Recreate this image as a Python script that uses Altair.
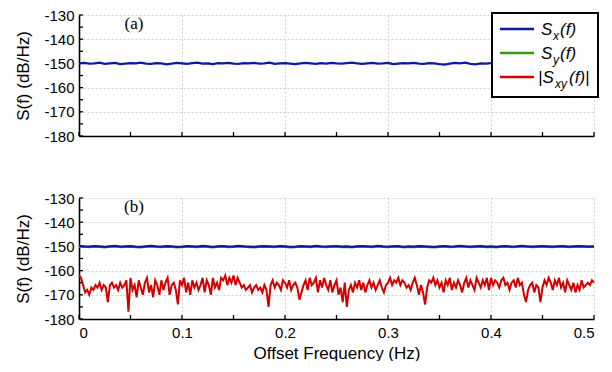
import altair as alt
import pandas as pd

# ---------------- data ----------------
X_MAJOR = [0, 0.1, 0.2, 0.3, 0.4, 0.5]
X_MINOR = [0, 0.05, 0.1, 0.15, 0.2, 0.25, 0.3, 0.35, 0.4, 0.45, 0.5]
Y_MAJOR = [-180, -170, -160, -150, -140, -130]
Y_MINOR = [-180, -175, -170, -165, -160, -155, -150, -145, -140, -135, -130]

# panel (a): S_x(f), step 0.005 Hz, 0 .. 0.4
top_sx = [-150.0, -149.8, -150.1, -150.0, -149.7, -150.2, -150.0, -149.8, -150.3, -150.1,
          -149.9, -150.0, -149.7, -150.1, -150.2, -149.9, -150.0, -150.4, -150.1, -149.8,
          -150.0, -150.2, -149.9, -149.7, -150.1, -150.0, -150.3, -149.9, -150.0, -149.8,
          -150.1, -150.2, -149.9, -150.0, -149.8, -150.1, -150.0, -149.7, -150.2, -150.0,
          -149.9, -150.1, -150.3, -150.0, -149.8, -150.0, -150.2, -149.9, -150.1, -149.8,
          -150.0, -150.1, -149.9, -149.7, -150.0, -150.2, -150.0, -149.8, -150.1, -150.0,
          -149.8, -150.3, -150.1, -149.9, -150.0, -149.8, -150.1, -150.2, -149.9, -150.0,
          -150.3, -150.5, -150.1, -149.8, -150.0, -149.7, -150.2, -150.4, -150.0, -150.1,
          -149.9]

# panel (b): S_x(f) and S_y(f), step 0.005 Hz, 0 .. 0.5
bot_sx = [-149.8, -150.0, -150.1, -149.9, -150.0, -150.2, -150.0, -149.8, -150.1, -150.0,
          -149.9, -150.1, -150.2, -150.0, -149.8, -150.0, -150.1, -149.9, -150.0, -150.2,
          -150.1, -149.9, -150.0, -150.1, -149.8, -150.0, -150.2, -150.0, -149.9, -150.1,
          -150.0, -149.8, -150.0, -150.1, -150.2, -150.0, -149.9, -150.0, -150.1, -149.9,
          -150.0, -150.2, -150.1, -149.9, -150.0, -150.1, -149.8, -150.0, -150.1, -150.0,
          -149.9, -150.1, -150.0, -150.2, -150.0, -149.9, -150.0, -150.1, -149.8, -150.0,
          -150.1, -150.0, -149.9, -150.2, -150.0, -150.1, -149.9, -150.0, -150.1, -150.2,
          -150.0, -149.9, -150.1, -150.0, -149.8, -150.0, -150.1, -150.0, -149.9, -150.1,
          -150.0, -150.2, -150.0, -149.9, -150.1, -150.0, -149.8, -150.0, -150.1, -150.0,
          -149.9, -150.0, -150.1, -150.0, -149.9, -150.1, -150.0, -149.9, -150.0, -150.1,
          -150.0]
bot_sy = [-150.2, -150.1, -150.3, -150.0, -150.2, -150.4, -150.1, -150.0, -150.3, -150.2,
          -150.1, -150.3, -150.4, -150.1, -150.0, -150.2, -150.3, -150.1, -150.2, -150.4,
          -150.3, -150.0, -150.2, -150.3, -150.1, -150.2, -150.4, -150.1, -150.0, -150.3,
          -150.2, -150.0, -150.1, -150.3, -150.4, -150.2, -150.1, -150.2, -150.3, -150.0,
          -150.2, -150.4, -150.3, -150.1, -150.2, -150.3, -150.0, -150.2, -150.3, -150.1,
          -150.0, -150.3, -150.2, -150.4, -150.1, -150.0, -150.2, -150.3, -150.0, -150.2,
          -150.3, -150.1, -150.0, -150.4, -150.2, -150.3, -150.1, -150.2, -150.3, -150.4,
          -150.2, -150.0, -150.3, -150.2, -150.0, -150.1, -150.3, -150.2, -150.0, -150.3,
          -150.2, -150.4, -150.1, -150.0, -150.3, -150.2, -150.0, -150.1, -150.3, -150.2,
          -150.0, -150.2, -150.3, -150.1, -150.0, -150.3, -150.2, -150.0, -150.1, -150.2,
          -150.1]

# panel (b): |S_xy(f)|, step 0.002 Hz, 0 .. 0.5
bot_sxy = [
    -162, -163, -166, -169, -168, -170, -167, -168, -166, -167, -165, -168, -166, -167, -173, -166, -165, -167, -166, -168, -165, -167, -166, -164, -177,
    -163, -168, -166, -171, -164, -167, -170, -165, -163, -169, -166, -171, -164, -166, -170, -164, -168, -165, -163, -170, -166, -165, -168, -174, -164,
    -166, -163, -169, -165, -170, -164, -167, -165, -168, -166, -163, -169, -164, -166, -170, -163, -167, -165, -168, -163, -164, -162, -166, -163, -165,
    -162, -166, -163, -165, -167, -166, -168, -167, -166, -169, -167, -166, -168, -167, -169, -166, -168, -175, -166, -164, -167, -165, -166, -168, -164,
    -165, -167, -164, -168, -166, -165, -167, -172, -169, -166, -164, -168, -163, -166, -165, -163, -169, -164, -167, -163, -166, -168, -164, -169, -166,
    -164, -170, -167, -173, -165, -175, -168, -166, -169, -165, -167, -164, -168, -165, -169, -166, -164, -167, -165, -168, -166, -164, -167, -169, -166,
    -165, -163, -166, -164, -165, -163, -166, -164, -165, -167, -166, -168, -165, -163, -166, -170, -166, -169, -174, -167, -164, -165, -163, -166, -164,
    -167, -165, -169, -164, -166, -163, -168, -165, -167, -164, -166, -169, -165, -163, -167, -164, -166, -168, -163, -165, -167, -164, -166, -163, -168,
    -163, -166, -164, -165, -167, -164, -163, -166, -165, -168, -165, -164, -167, -163, -166, -165, -170, -173, -168, -166, -165, -169, -166, -167, -173,
    -167, -164, -166, -163, -165, -168, -164, -166, -163, -167, -165, -169, -164, -166, -168, -165, -169, -166, -168, -164, -167, -166, -165, -166, -164,
    -165]

top_f = [round(i * 0.005, 3) for i in range(len(top_sx))]
bot_f = [round(i * 0.005, 3) for i in range(len(bot_sx))]
red_f = [round(i * 0.002, 3) for i in range(len(bot_sxy))]

BLUE = "#0d1aa0"
GREEN = "#3a9a1c"
RED = "#d40000"
FONT = "Arial"

W, H = 515, 121

xs = alt.Scale(domain=[0, 0.5], nice=False, zero=False)
ys = alt.Scale(domain=[-180, -130], nice=False, zero=False)


def xenc(field, bottom):
    ax = alt.Axis(values=X_MAJOR, labels=bottom, labelPadding=6, format="~g",
                  title="Offset Frequency (Hz)" if bottom else "", titlePadding=5,
                  grid=True)
    return alt.X(field, type="quantitative", scale=xs, axis=ax)


def yenc(field):
    ax = alt.Axis(values=Y_MAJOR, labelPadding=5, labelExpr="'' + datum.value",
                  title="S(f) (dB/Hz)", titlePadding=11, grid=True)
    return alt.Y(field, type="quantitative", scale=ys, axis=ax)


one = pd.DataFrame({"d": [0]})


def ticks(bottom):
    tx = alt.Chart(pd.DataFrame({"t": X_MINOR})).mark_rule(color="black", strokeWidth=1.3).encode(
        x=xenc("t", bottom), y=alt.value(H), y2=alt.value(H - 4))
    ty = alt.Chart(pd.DataFrame({"t": Y_MINOR})).mark_rule(color="black", strokeWidth=1.3).encode(
        y=yenc("t"), x=alt.value(0), x2=alt.value(4))
    return [tx, ty]


def line(f, v, color, width, bottom):
    df = pd.DataFrame({"f": f, "v": v})
    return alt.Chart(df).mark_line(color=color, strokeWidth=width).encode(
        x=xenc("f", bottom), y=yenc("v"))


def label(txt):
    return alt.Chart(one).mark_text(font="Times New Roman", fontSize=17, color="black",
                                    baseline="middle", align="center").encode(
        x=alt.value(55), y=alt.value(9), text=alt.value(txt))


def txt(s, x, y, size=17):
    return alt.Chart(one).mark_text(font=FONT, fontSize=size, fontStyle="italic",
                                    color="black", align="left", baseline="alphabetic").encode(
        x=alt.value(x), y=alt.value(y), text=alt.value(s))


legend = [
    alt.Chart(one).mark_rect(fill="white", stroke="black", strokeWidth=2).encode(
        x=alt.value(413), x2=alt.value(519), y=alt.value(-2), y2=alt.value(82)),
    alt.Chart(one).mark_rule(color=BLUE, strokeWidth=2.5).encode(
        x=alt.value(421), x2=alt.value(455), y=alt.value(14)),
    alt.Chart(one).mark_rule(color=GREEN, strokeWidth=2.5).encode(
        x=alt.value(421), x2=alt.value(455), y=alt.value(38)),
    alt.Chart(one).mark_rule(color=RED, strokeWidth=2.5).encode(
        x=alt.value(421), x2=alt.value(455), y=alt.value(62)),
    txt("S", 462, 20), txt("x", 474, 25, 12), txt("(f)", 481, 20),
    txt("S", 462, 44), txt("y", 474, 49, 12), txt("(f)", 481, 44),
    txt("|S", 459, 68), txt("xy", 476, 73, 12), txt("(f)|", 490, 68),
]

top = alt.layer(
    *ticks(False),
    line(top_f, top_sx, BLUE, 2.2, False),
    label("(a)"),
    *legend,
).properties(width=W, height=H)

bottom = alt.layer(
    *ticks(True),
    line(bot_f, bot_sy, GREEN, 2.2, True),
    line(bot_f, bot_sx, BLUE, 2.2, True),
    line(red_f, bot_sxy, RED, 2, True),
    label("(b)"),
).properties(width=W, height=H)

chart = alt.vconcat(top, bottom, spacing=47).properties(
    padding={"left": 6, "top": 0, "right": 0, "bottom": 0}
).configure_axis(
    labelFont=FONT, labelFontSize=15, labelColor="black",
    titleFont=FONT, titleFontSize=17, titleFontWeight="normal", titleColor="black",
    domainColor="black", domainWidth=1.6, ticks=False,
    gridColor="#c4c4c4", gridDash=[2, 2], gridWidth=0.8,
).configure_view(strokeWidth=0)

chart.save("out.html", embed_options={"renderer": "svg", "actions": False})
